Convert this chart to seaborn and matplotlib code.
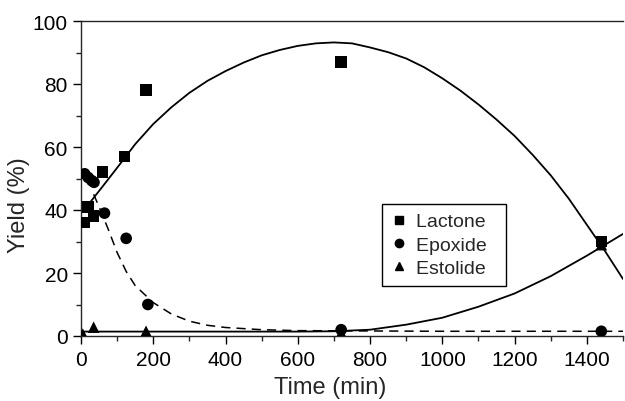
import numpy as np
import pandas as pd
import matplotlib
matplotlib.use("Agg")
import matplotlib.pyplot as plt
import seaborn as sns
from matplotlib.ticker import MultipleLocator
from matplotlib.lines import Line2D

# ---- data ----
lactone_t = [10, 20, 35, 60, 120, 180, 720, 1440]
lactone_y = [36, 41, 38, 52, 57, 78, 87, 30]
epoxide_t = [10, 20, 30, 36, 65, 125, 185, 720, 1440]
epoxide_y = [51.5, 50.3, 49.3, 48.8, 39, 31, 10, 2, 1.5]
estolide_t = [5, 35, 180, 720, 1440]
estolide_y = [0.6, 2.8, 1.5, 1.0, 29]

lactone_fit_t = [25, 60, 100, 150, 200, 250, 300, 350, 400, 450, 500, 550, 600, 650, 700, 750,
                 800, 850, 900, 950, 1000, 1050, 1100, 1150, 1200, 1250, 1300, 1350, 1400, 1450, 1500]
lactone_fit_y = [42.4, 47.5, 53.4, 60.9, 67.3, 72.6, 77.2, 81.0, 84.1, 86.8, 89.1, 90.8, 92.1, 92.9, 93.2, 92.9,
                 91.6, 90.1, 88.1, 85.3, 81.8, 77.9, 73.5, 68.7, 63.5, 57.5, 51.0, 43.6, 35.3, 27.0, 18.1]

epoxide_fit_t = [35, 50, 75, 100, 125, 150, 200, 250, 300, 350, 400, 500, 600, 800, 1000, 1500]
epoxide_fit_y = [45, 41, 34, 26.5, 20.5, 16, 10.6, 7, 4.7, 3.4, 2.7, 2.0, 1.7, 1.6, 1.5, 1.5]

estolide_fit_t = [0, 200, 400, 600, 700, 800, 900, 1000, 1100, 1200, 1300, 1400, 1500]
estolide_fit_y = [1.4, 1.4, 1.4, 1.4, 1.5, 2.0, 3.6, 5.8, 9.3, 13.5, 19.0, 25.5, 32.4]

x_ticks = [0, 200, 400, 600, 800, 1000, 1200, 1400]
y_ticks = [0, 20, 40, 60, 80, 100]
legend_labels = ["Lactone", "Epoxide", "Estolide"]

# ---- style ----
sns.set_style("ticks")
plt.rcParams['font.family'] = ['Liberation Sans', 'DejaVu Sans']
plt.rcParams['axes.linewidth'] = 1.0

fig = plt.figure(figsize=(6.25, 4.02), dpi=100)
ax = fig.add_axes([81/625, 1 - 337/402, (623-81)/625, (337-22)/402])

pts = pd.concat([
    pd.DataFrame({"t": lactone_t, "y": lactone_y, "s": "Lactone"}),
    pd.DataFrame({"t": epoxide_t, "y": epoxide_y, "s": "Epoxide"}),
    pd.DataFrame({"t": estolide_t, "y": estolide_y, "s": "Estolide"}),
])

sns.lineplot(x=lactone_fit_t, y=lactone_fit_y, ax=ax, color="black", lw=1.3)
sns.lineplot(x=epoxide_fit_t, y=epoxide_fit_y, ax=ax, color="black", lw=1.1,
             linestyle=(0, (6, 4)))
sns.lineplot(x=estolide_fit_t, y=estolide_fit_y, ax=ax, color="black", lw=1.3)

markers = {"Lactone": "s", "Epoxide": "o", "Estolide": "^"}
sns.scatterplot(data=pts, x="t", y="y", style="s", markers=markers,
                color="black", s=70, edgecolor="black", linewidth=0, ax=ax,
                legend=False, zorder=5)

ax.set_xlim(0, 1500)
ax.set_ylim(0, 100)
ax.set_xticks(x_ticks)
ax.set_yticks(y_ticks)
ax.xaxis.set_minor_locator(MultipleLocator(100))
ax.yaxis.set_minor_locator(MultipleLocator(10))
ax.tick_params(which="major", direction="out", length=6, width=1, labelsize=15, colors="black")
ax.tick_params(which="minor", direction="out", length=3.5, width=1)
ax.tick_params(axis="x", pad=4)
sns.despine(ax=ax, top=False, right=True)

ax.set_xlabel("Time (min)", fontsize=17)
ax.set_ylabel("Yield (%)", fontsize=17)
ax.xaxis.set_label_coords((330-81)/542, -0.128)
ax.yaxis.set_label_coords((30-81)/542, (337-205)/315)

handles = [Line2D([], [], marker=markers[k], color="black", linestyle="none",
                  markersize=6) for k in legend_labels]
leg = ax.legend(handles, [k + "  " for k in legend_labels], loc="upper left",
                bbox_to_anchor=((382-81)/542, (337-205)/315), fontsize=14,
                frameon=True, fancybox=False, edgecolor="black", framealpha=1,
                handlelength=0.8, handletextpad=0.5, borderpad=0.45,
                labelspacing=0.3, borderaxespad=0)
leg.get_frame().set_linewidth(1.0)

fig.savefig("out.png", dpi=100)
